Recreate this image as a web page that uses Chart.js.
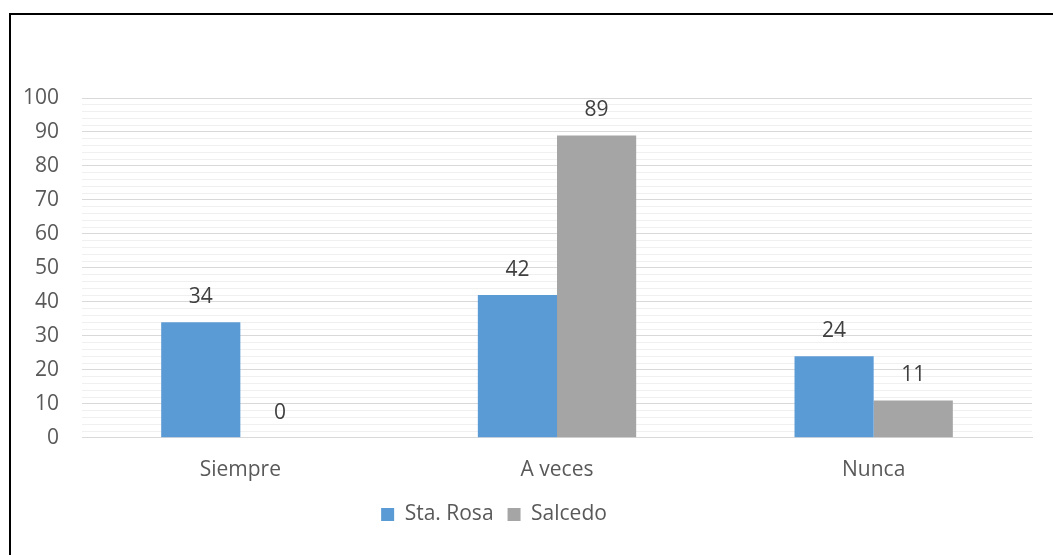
<!DOCTYPE html>
<html>
<head>
<meta charset="utf-8">
<script src="https://cdn.jsdelivr.net/npm/chart.js@4"></script>
<style>
  html, body { margin: 0; padding: 0; background: #fff; overflow: hidden; }
  #wrap { position: absolute; left: 0; top: 0; width: 1053px; height: 555px; }
  #frame { position: absolute; left: 9px; top: 13px; width: 2000px; height: 2000px;
           border-left: 2px solid #000; border-top: 2px solid #000; pointer-events: none; }
</style>
</head>
<body>
<div id="wrap"><canvas id="barChart" width="1053" height="555"></canvas></div>
<div id="frame"></div>
<script>
// chart data
var categories = ['Siempre', 'A veces', 'Nunca'];
var staRosa = [34, 42, 24];
var salcedo = [0, 89, 11];
var seriesNames = ['Sta. Rosa', 'Salcedo'];

var textColor = '#595959';
var fontFam = "'Open Sans', 'DejaVu Sans', sans-serif";
var fontSize = 21;

// draw the value above every bar
var valueLabels = {
	id: 'valueLabels',
	afterDatasetsDraw: function(chart) {
		var ctx = chart.ctx;
		ctx.save();
		ctx.font = fontSize + 'px ' + fontFam;
		ctx.fillStyle = '#404040';
		ctx.textAlign = 'center';
		ctx.textBaseline = 'middle';
		chart.data.datasets.forEach(function(ds, i) {
			var meta = chart.getDatasetMeta(i);
			meta.data.forEach(function(bar, j) {
				ctx.fillText(ds.data[j], bar.x, bar.y - 25);
			});
		});
		ctx.restore();
	}
};

// legend sits a bit left of centre and a bit higher in the original
var legendShift = {
	id: 'legendShift',
	afterLayout: function(chart) {
		chart.legend.left -= 22;
		chart.legend.right -= 22;
		chart.legend.top -= 5;
		chart.legend.bottom -= 5;
	}
};

var ctx = document.getElementById('barChart').getContext('2d');
var myChart = new Chart(ctx, {
	type: 'bar',
	data: {
		labels: categories,
		datasets: [
			{ label: seriesNames[0], data: staRosa, backgroundColor: '#5B9BD5' },
			{ label: seriesNames[1], data: salcedo, backgroundColor: '#A5A5A5' }
		]
	},
	options: {
		responsive: false,
		animation: false,
		layout: { padding: { left: 0, right: 21, top: 98, bottom: 15 } },
		plugins: {
			tooltip: { enabled: false },
			legend: {
				position: 'bottom',
				labels: {
					color: textColor,
					font: { size: fontSize, family: fontFam },
					boxWidth: 13,
					boxHeight: 13,
					padding: 14
				}
			}
		},
		datasets: {
			bar: { categoryPercentage: 0.5, barPercentage: 1.0 }
		},
		scales: {
			x: {
				grid: { display: false },
				border: { color: '#D9D9D9', width: 1 },
				ticks: { color: textColor, font: { size: fontSize, family: fontFam }, padding: 12 }
			},
			y: {
				min: 0,
				max: 100,
				border: { display: false },
				grid: {
					drawTicks: false,
					color: function(c) {
						if (c.tick && c.tick.value % 10 === 0) return '#D9D9D9';
						return '#F0F0F0';
					}
				},
				ticks: {
					stepSize: 2,
					autoSkip: false,
					padding: 23,
					color: textColor,
					font: { size: fontSize, family: fontFam },
					callback: function(v) { return v % 10 === 0 ? v : ''; }
				}
			}
		}
	},
	plugins: [valueLabels, legendShift]
});
</script>
</body>
</html>
